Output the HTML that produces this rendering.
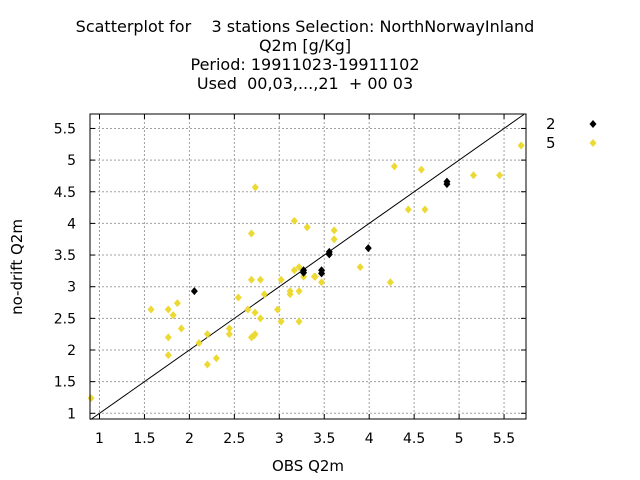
<!DOCTYPE html>
<html><head><meta charset="utf-8"><style>
html,body{margin:0;padding:0;background:#fff;}
svg{display:block;font-family:"DejaVu Sans","Liberation Sans",sans-serif;}
</style></head><body>
<svg id="chart" width="640" height="480" viewBox="0 0 640 480" xmlns="http://www.w3.org/2000/svg">
<g font-size="16" text-anchor="middle" fill="#000" style="white-space:pre">
<text x="305" y="32" xml:space="preserve">Scatterplot for    3 stations Selection: NorthNorwayInland</text>
<text x="305" y="51">Q2m [g/Kg]</text>
<text x="305" y="70">Period: 19911023-19911102</text>
<text x="305" y="89" xml:space="preserve">Used  00,03,...,21  + 00 03</text>
</g>
<g id="grid"></g>
<g id="axes"></g>
<g id="marks"></g>
<rect x="90" y="114" width="436" height="305" fill="none" stroke="#000" stroke-width="1"/>
<text x="308" y="471" font-size="15" text-anchor="middle">OBS Q2m</text>
<text x="0" y="0" font-size="15" text-anchor="middle" transform="translate(22,267) rotate(-90)">no-drift Q2m</text>
<g font-size="15">
<g><text x="546" y="129">2</text><path d="M593,120 l3.5,4 l-3.5,4 l-3.5,-4z" fill="#000"/></g>
<g><text x="546" y="148">5</text><path d="M593,139 l3.5,4 l-3.5,4 l-3.5,-4z" fill="#ecd934"/></g>
</g>
</svg>
<script>
const xTicks=[1,1.5,2,2.5,3,3.5,4,4.5,5,5.5];
const xTickLabels=["1","1.5","2","2.5","3","3.5","4","4.5","5","5.5"];
const yTicks=[1,1.5,2,2.5,3,3.5,4,4.5,5,5.5];
const yTickLabels=["1","1.5","2","2.5","3","3.5","4","4.5","5","5.5"];
const s5x=[0.906,1.573,1.765,1.866,1.82,1.91,1.765,1.765,2.107,2.2,2.2,2.3,2.444,2.444,2.544,2.65,2.69,2.72,2.73,2.73,2.79,2.733,2.69,2.69,2.79,2.833,2.98,3.02,3.02,3.12,3.12,3.167,3.22,3.22,3.22,3.167,3.31,3.27,3.39,3.40,3.47,3.61,3.61,3.90,4.235,4.28,4.435,4.58,4.62,5.16,5.45,5.69];
const s5y=[1.24,2.64,2.64,2.74,2.55,2.34,2.20,1.92,2.11,2.25,1.77,1.87,2.34,2.25,2.83,2.64,2.20,2.23,2.25,2.59,2.5,4.57,3.84,3.11,3.11,2.88,2.64,2.45,3.11,2.93,2.88,3.26,3.31,2.93,2.45,4.04,3.94,3.16,3.16,3.16,3.07,3.89,3.75,3.31,3.07,4.90,4.22,4.85,4.22,4.76,4.76,5.23];
const s2x=[2.055,3.27,3.27,3.47,3.47,3.556,3.556,3.99,4.865,4.865];
const s2y=[2.93,3.26,3.22,3.26,3.21,3.55,3.51,3.61,4.66,4.62];
const X0=90,X1=526,Y0=114,Y1=419;
function sx(v){return 99.5+(v-1)*89.9;}
function sy(v){return 413.3-(v-1)*63.3;}
const NS="http://www.w3.org/2000/svg";
function mk(tag,attrs,parent){const e=document.createElementNS(NS,tag);for(const k in attrs)e.setAttribute(k,attrs[k]);parent.appendChild(e);return e;}
const grid=document.getElementById('grid'),axes=document.getElementById('axes'),marks=document.getElementById('marks');
xTicks.forEach((t,i)=>{const x=sx(t);
 const g=mk('line',{x1:x,x2:x,y1:Y0,y2:Y1,stroke:'#a0a0a0','stroke-dasharray':'2,2','stroke-width':1},grid);
 
 
 mk('line',{x1:x,x2:x,y1:Y1,y2:Y1-5,stroke:'#000'},axes);
 mk('line',{x1:x,x2:x,y1:Y0,y2:Y0+5,stroke:'#000'},axes);
 const tx=mk('text',{x:x,y:443,'font-size':14,'text-anchor':'middle'},axes);tx.textContent=xTickLabels[i];
 
 
});
yTicks.forEach((t,i)=>{const y=sy(t);
 const g=mk('line',{x1:X0,x2:X1,y1:y,y2:y,stroke:'#a0a0a0','stroke-dasharray':'2,2','stroke-width':1},grid);
 
 
 mk('line',{x1:X0,x2:X0+5,y1:y,y2:y,stroke:'#000'},axes);
 mk('line',{x1:X1,x2:X1-5,y1:y,y2:y,stroke:'#000'},axes);
 const tx=mk('text',{x:76,y:y+5,'font-size':14,'text-anchor':'end'},axes);tx.textContent=yTickLabels[i];
 
 
});
const lo=0.9,hi=5.72;
const diag=mk('line',{x1:sx(lo),y1:sy(lo),x2:sx(hi),y2:sy(hi),stroke:'#000','stroke-width':1},marks);


function dia(x,y,c){return mk('path',{d:`M${x},${y-4} l3.5,4 l-3.5,4 l-3.5,-4z`,fill:c},marks);}
s5x.forEach((v,i)=>{const p=dia(sx(v),sy(s5y[i]),'#ecd934');
 
 });
s2x.forEach((v,i)=>{const p=dia(sx(v),sy(s2y[i]),'#000');
 
 });
</script>
</body></html>
